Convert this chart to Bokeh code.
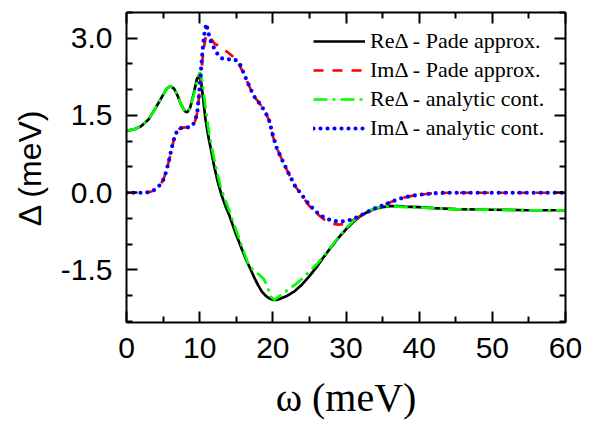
from bokeh.plotting import figure
from bokeh.models import Range1d, FixedTicker, LinearAxis, Legend
from bokeh.embed import file_html
from bokeh.resources import INLINE

# ---------------- data ----------------
re_pade_x = [0, 1, 2, 3, 4, 5, 5.5, 6.0, 6.5, 7.0, 7.5, 8.0, 8.3, 8.7, 9.2, 9.6, 9.9,
             10.2, 10.5, 10.8, 11.2, 11.6, 12.0, 12.5, 13.0, 13.5, 14.0, 14.5, 15.0,
             15.5, 16.0, 16.5, 17.0, 17.5, 18.0, 18.5, 19.0, 19.5, 20.0, 20.5, 21.0,
             22, 23, 24, 25, 26, 27, 28, 29, 30, 31, 32, 33, 34, 35, 36, 37, 38, 40,
             42, 45, 50, 55, 60]
re_pade_y = [1.20, 1.23, 1.29, 1.42, 1.65, 1.90, 2.02, 2.07, 2.02, 1.88, 1.70, 1.58,
             1.56, 1.65, 1.93, 2.20, 2.28, 2.15, 1.80, 1.42, 1.08, 0.80, 0.50, 0.20,
             -0.05, -0.25, -0.42, -0.62, -0.82, -1.00, -1.18, -1.35, -1.50, -1.66,
             -1.80, -1.92, -2.00, -2.05, -2.08, -2.08, -2.06, -2.00, -1.91, -1.78,
             -1.62, -1.44, -1.24, -1.05, -0.87, -0.71, -0.57, -0.45, -0.37, -0.31,
             -0.28, -0.26, -0.26, -0.27, -0.28, -0.30, -0.32, -0.33, -0.34, -0.34]

re_ac_x = [0, 1, 2, 3, 4, 5, 5.5, 6.0, 6.5, 7.0, 7.5, 8.0, 8.3, 8.7, 9.2, 9.6, 10.0,
           10.2, 10.5, 10.9, 11.3, 11.8, 12.3, 12.8, 13.3, 13.8, 14.3, 14.8, 15.3,
           15.8, 16.3, 16.7, 17.3, 18.0, 18.8, 19.3, 19.8, 20.2, 21, 22, 23, 24, 25,
           26, 27, 28, 29, 30, 31, 32, 33, 34, 35, 36, 37, 38, 40, 42, 45, 50, 55, 60]
re_ac_y = [1.20, 1.23, 1.29, 1.42, 1.65, 1.90, 2.02, 2.07, 2.02, 1.88, 1.70, 1.58,
           1.56, 1.65, 1.90, 2.15, 2.33, 2.30, 2.00, 1.55, 1.15, 0.78, 0.45, 0.15,
           -0.07, -0.25, -0.45, -0.65, -0.85, -1.05, -1.25, -1.40, -1.50, -1.58,
           -1.68, -1.85, -2.03, -2.08, -2.00, -1.89, -1.79, -1.67, -1.53, -1.39,
           -1.22, -1.04, -0.86, -0.69, -0.55, -0.44, -0.36, -0.30, -0.27, -0.26,
           -0.27, -0.28, -0.29, -0.30, -0.32, -0.33, -0.34, -0.34]

im_pade_x = [0, 1, 2, 3, 3.5, 4.0, 4.5, 5.0, 5.4, 5.8, 6.2, 6.6, 7.0, 7.5, 8.0, 8.5,
             9.0, 9.4, 9.6, 9.9, 10.2, 10.5, 10.8, 11.1, 11.5, 12.0, 12.5, 13.0, 13.5,
             14.0, 14.5, 15.0, 15.5, 16.0, 16.5, 17.0, 17.5, 18.0, 18.5, 19.0, 19.5,
             20.0, 20.5, 21, 22, 23, 24, 25, 26, 27, 28, 29, 30, 31, 32, 33, 34, 35,
             36, 37, 38, 39, 40, 42, 44, 50, 60]
im_pade_y = [0.00, 0.00, 0.00, 0.01, 0.03, 0.07, 0.14, 0.24, 0.40, 0.62, 0.88, 1.10,
             1.22, 1.26, 1.27, 1.27, 1.30, 1.40, 1.50, 1.85, 2.30, 2.75, 3.00, 3.08,
             3.00, 2.90, 2.86, 2.82, 2.76, 2.71, 2.65, 2.57, 2.46, 2.32, 2.16, 2.00,
             1.86, 1.77, 1.67, 1.56, 1.40, 1.10, 0.88, 0.72, 0.42, 0.14, -0.06, -0.26,
             -0.40, -0.52, -0.60, -0.62, -0.60, -0.53, -0.45, -0.37, -0.30, -0.25,
             -0.19, -0.13, -0.09, -0.06, -0.04, -0.01, 0.00, 0.00, 0.00]

im_ac_x = [0, 1, 2, 3, 3.5, 4.0, 4.5, 5.0, 5.4, 5.8, 6.2, 6.6, 7.0, 7.5, 8.0, 8.5,
           9.0, 9.4, 9.7, 10.0, 10.3, 10.6, 10.9, 11.2, 11.5, 12.0, 12.5, 13.0, 13.5,
           14.0, 14.5, 15.0, 15.5, 16.0, 16.5, 17.0, 17.5, 18.0, 18.5, 19.0, 19.5,
           20.0, 20.5, 21, 22, 23, 24, 25, 26, 27, 28, 29, 30, 31, 32, 33, 34, 35,
           36, 37, 38, 39, 40, 42, 44, 50, 60]
im_ac_y = [0.00, 0.00, 0.00, 0.01, 0.03, 0.07, 0.14, 0.24, 0.40, 0.62, 0.88, 1.10,
           1.22, 1.26, 1.27, 1.27, 1.30, 1.40, 1.60, 2.05, 2.60, 3.05, 3.28, 3.10,
           2.95, 2.80, 2.68, 2.61, 2.59, 2.59, 2.60, 2.57, 2.50, 2.33, 2.16, 2.00,
           1.86, 1.77, 1.67, 1.56, 1.40, 1.12, 0.88, 0.72, 0.42, 0.14, -0.05, -0.24,
           -0.38, -0.48, -0.54, -0.56, -0.55, -0.51, -0.44, -0.37, -0.30, -0.25,
           -0.19, -0.13, -0.09, -0.06, -0.04, -0.01, 0.00, 0.00, 0.00]

series_labels = ["Re\u0394 - Pade approx.", "Im\u0394 - Pade approx.",
                 "Re\u0394 - analytic cont.", "Im\u0394 - analytic cont."]

x_major = [0, 10, 20, 30, 40, 50, 60]
x_minor = [5, 15, 25, 35, 45, 55]
y_major = [-1.5, 0.0, 1.5, 3.0]
y_tick_labels = ["-1.5", "0.0", "1.5", "3.0"]
y_minor = [-2.5, -2.0, -1.0, -0.5, 0.5, 1.0, 2.0, 2.5, 3.5]

x_label = "\u03c9 (meV)"
y_label = "\u0394 (meV)"

# ---------------- figure ----------------
p = figure(width=595, height=424, output_backend="svg", toolbar_location=None,
           x_range=Range1d(0, 60), y_range=Range1d(-2.52, 3.5),
           min_border_left=126, min_border_right=30, min_border_top=12,
           min_border_bottom=102)
p.xgrid.visible = False
p.ygrid.visible = False
p.outline_line_color = None
p.background_fill_color = "white"
p.border_fill_color = "white"

r1 = p.line(re_pade_x, re_pade_y, line_color="black", line_width=2.7)
r2 = p.line(im_pade_x, im_pade_y, line_color="#FF0000", line_width=2.7,
            line_dash="10 9")
r3 = p.line(re_ac_x, re_ac_y, line_color="#00FF00", line_width=2.7,
            line_dash="14 5 3 5")
r4 = p.line(im_ac_x, im_ac_y, line_color="#0000FF", line_width=4.2,
            line_dash="0 7", line_cap="round")

xt = FixedTicker(ticks=x_major, minor_ticks=x_minor)
yt = FixedTicker(ticks=y_major, minor_ticks=y_minor)


def style_axis(ax, show_labels):
    ax.axis_line_width = 2
    ax.axis_line_color = "black"
    ax.major_tick_in = 11
    ax.major_tick_out = 0
    ax.minor_tick_in = 6
    ax.minor_tick_out = 0
    ax.major_tick_line_width = 2
    ax.minor_tick_line_width = 2
    ax.major_tick_line_color = "black"
    ax.minor_tick_line_color = "black"
    if show_labels:
        ax.major_label_text_font = "Liberation Sans"
        ax.major_label_text_font_size = "30px"
        ax.major_label_text_color = "black"
    else:
        ax.major_label_text_font_size = "0px"
        ax.major_label_text_color = None
        ax.major_label_standoff = 0


xa = p.xaxis[0]
xa.ticker = xt
style_axis(xa, True)
xa.major_label_standoff = 15
xa.axis_label = x_label
xa.axis_label_text_font = "Liberation Serif"
xa.axis_label_text_font_size = "40px"
xa.axis_label_text_font_style = "normal"
xa.axis_label_text_color = "black"
xa.axis_label_standoff = 14

ya = p.yaxis[0]
ya.ticker = yt
style_axis(ya, True)
ya.major_label_standoff = 14
ya.major_label_overrides = {v: s for v, s in zip(y_major, y_tick_labels)}
ya.axis_label = y_label
ya.axis_label_text_font = "Liberation Sans"
ya.axis_label_text_font_size = "32px"
ya.axis_label_text_font_style = "normal"
ya.axis_label_text_color = "black"
ya.axis_label_standoff = 10

top = LinearAxis(ticker=xt)
style_axis(top, False)
p.add_layout(top, "above")
right = LinearAxis(ticker=yt)
style_axis(right, False)
p.add_layout(right, "right")

legend = Legend(items=[(series_labels[0], [r1]), (series_labels[1], [r2]),
                       (series_labels[2], [r3]), (series_labels[3], [r4])],
                location=(187, 181))
legend.border_line_color = None
legend.background_fill_alpha = 0
legend.padding = 0
legend.margin = 0
legend.spacing = 3
legend.glyph_width = 52
legend.glyph_height = 26
legend.label_height = 26
legend.label_standoff = 5
legend.label_text_font = "Liberation Serif"
legend.label_text_font_size = "22px"
legend.label_text_color = "black"
p.add_layout(legend, "center")

open("out.html", "w").write(file_html(p, INLINE))
